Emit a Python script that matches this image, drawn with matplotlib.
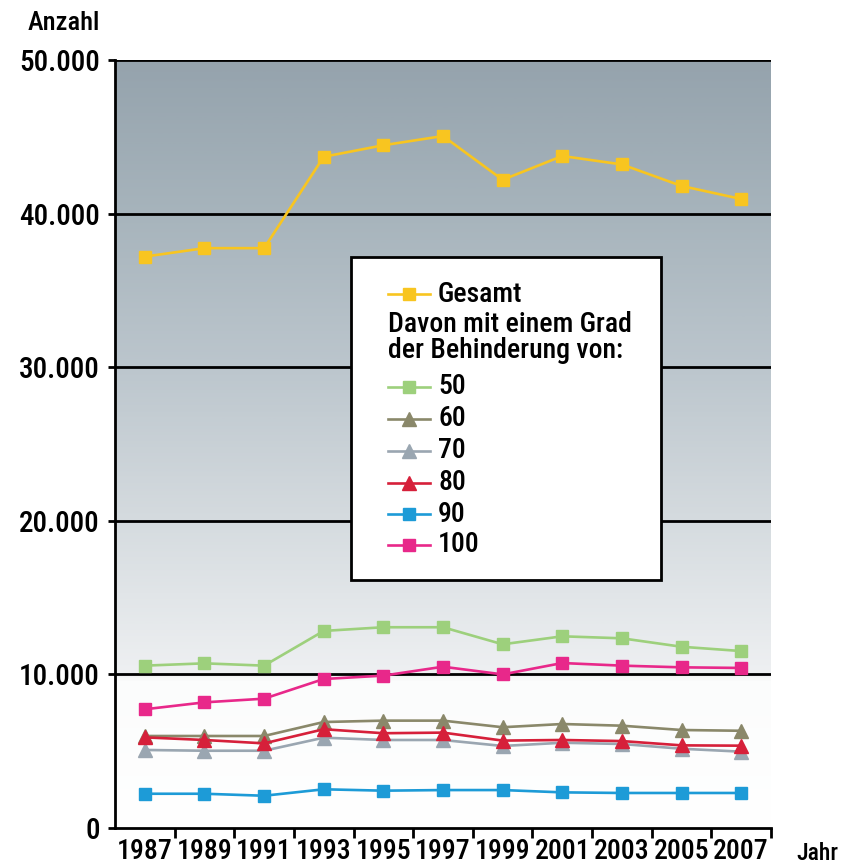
import matplotlib
matplotlib.use("Agg")
import matplotlib.pyplot as plt
import numpy as np
from matplotlib.patches import Rectangle
from matplotlib.colors import LinearSegmentedColormap
from matplotlib import font_manager

# a narrow face if the machine has one, else Liberation Sans
names = set(f.name for f in font_manager.fontManager.ttflist)
narrow = [n for n in ["Liberation Sans Narrow", "Roboto Condensed", "Open Sans Condensed",
                      "DejaVu Sans Condensed"] if n in names]
main_font = narrow[0] if narrow else "Liberation Sans"
plt.rcParams['font.family'] = [main_font, 'DejaVu Sans']
plt.rcParams['font.weight'] = 'medium'
is_narrow = bool(narrow)

# ---- data ----
years = ["1987", "1989", "1991", "1993", "1995", "1997", "1999", "2001", "2003", "2005", "2007"]
gesamt = [37200, 37750, 37750, 43700, 44450, 45050, 42200, 43750, 43200, 41800, 40950]
gdb50 = [10570, 10720, 10570, 12830, 13070, 13070, 11960, 12480, 12350, 11800, 11520]
gdb60 = [5990, 5990, 5990, 6900, 6990, 6990, 6560, 6770, 6660, 6380, 6330]
gdb70 = [5080, 5030, 5030, 5880, 5730, 5730, 5340, 5550, 5470, 5160, 4970]
gdb80 = [5900, 5730, 5510, 6430, 6170, 6210, 5690, 5730, 5660, 5380, 5360]
gdb90 = [2230, 2230, 2100, 2520, 2430, 2470, 2470, 2320, 2280, 2280, 2280]
gdb100 = [7730, 8180, 8420, 9700, 9920, 10500, 10000, 10740, 10570, 10460, 10420]

yticks = [0, 10000, 20000, 30000, 40000, 50000]
ytick_labels = ["0", "10.000", "20.000", "30.000", "40.000", "50.000"]

# series: values, label, colour, marker
series = [
    (gesamt, "Gesamt", "#f8c520", "s"),
    (gdb50, "50", "#9dd07c", "s"),
    (gdb60, "60", "#8a886a", "^"),
    (gdb70, "70", "#9aa6b1", "^"),
    (gdb80, "80", "#d6203a", "^"),
    (gdb90, "90", "#1d9bd7", "s"),
    (gdb100, "100", "#e8288a", "s"),
]

xfs = 20 if is_narrow else 17
yfs = 21 if is_narrow else 17
lfs = 20 if is_narrow else 17

fig = plt.figure(figsize=(8.41, 8.67), dpi=100)
ax = fig.add_axes([115/841, 1-828/867, 656/841, 768/867])

x = np.arange(len(years))
ax.set_xlim(-0.5, len(years) - 0.5)
ax.set_ylim(0, 50000)

# background gradient (grey-blue at top, white at the bottom)
cmap = LinearSegmentedColormap.from_list("bg", [
    (0.0, "#ffffff"), (0.19, "#fbfcfc"), (0.2, "#eef0f2"),
    (0.4, "#d5dbdf"), (0.6, "#bcc6cd"), (0.8, "#a7b4bc"), (1.0, "#95a3ad")])
grad = np.linspace(0, 1, 500).reshape(-1, 1)
ax.imshow(grad, cmap=cmap, aspect="auto", origin="lower",
          extent=[-0.5, len(years) - 0.5, 0, 50000], zorder=0)

for yv in yticks[1:]:
    ax.axhline(yv, color="black", lw=2, zorder=1)

for vals, lab, col, mk in series:
    ms = 8 if mk == "s" else 10
    ax.plot(x, vals, color=col, lw=1.9, marker=mk, ms=ms, mec=col, mfc=col, zorder=3)

# axes styling
for s in ["top", "right"]:
    ax.spines[s].set_visible(False)
ax.spines["left"].set_linewidth(2)
ax.spines["bottom"].set_linewidth(2)
ax.set_yticks(yticks)
ax.set_yticklabels(ytick_labels, fontsize=yfs)
ax.tick_params(axis="y", length=5, width=2, pad=6)

ax.set_xticks(x)
ax.set_xticklabels(years, fontsize=xfs)
ax.tick_params(axis="x", which="major", length=0, pad=7)
ax.set_xticks(np.arange(0.5, len(years)), minor=True)
ax.tick_params(axis="x", which="minor", length=7, width=2)

fig.text(64/841, 1-23/867, "Anzahl", fontsize=19, ha="center", va="center")
fig.text(817/841, 1-854/867, "Jahr", fontsize=17, ha="center", va="center")

# legend box drawn by hand (header line starts under the handles)
def fx(px):
    return (px - 115) / 656

def fy(py):
    return (828 - py) / 768

ax.add_patch(Rectangle((fx(351), fy(580)), fx(661) - fx(351), fy(257) - fy(580),
                       transform=ax.transAxes, facecolor="white", edgecolor="black",
                       lw=2, zorder=5, clip_on=False))
rows = [294, 387, 419, 451, 483, 514, 545]
for (vals, lab, col, mk), ry in zip(series, rows):
    ms = 8 if mk == "s" else 10
    ax.plot([fx(388), fx(430)], [fy(ry), fy(ry)], color=col, lw=1.9,
            transform=ax.transAxes, zorder=6, clip_on=False)
    ax.plot([fx(409)], [fy(ry)], marker=mk, ms=ms, color=col,
            transform=ax.transAxes, zorder=6, clip_on=False)
    ax.text(fx(438), fy(ry), lab, fontsize=lfs, va="center", ha="left",
            transform=ax.transAxes, zorder=6)
ax.text(fx(388), fy(324), "Davon mit einem Grad", fontsize=lfs, va="center",
        ha="left", transform=ax.transAxes, zorder=6)
ax.text(fx(388), fy(351), "der Behinderung von:", fontsize=lfs, va="center",
        ha="left", transform=ax.transAxes, zorder=6)

fig.savefig("out.png", dpi=100)
